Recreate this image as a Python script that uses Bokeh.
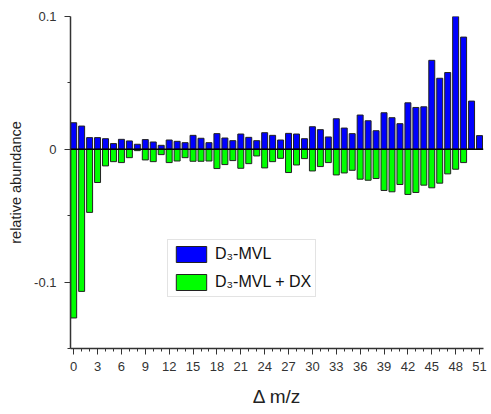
from bokeh.plotting import figure
from bokeh.models import (FixedTicker, Range1d, Span, Legend, LegendItem,
                          CustomJSTickFormatter, ColumnDataSource)
from bokeh.embed import file_html
from bokeh.resources import INLINE

mz = list(range(52))
d3_mvl = [0.020, 0.0175, 0.0088, 0.0088, 0.008, 0.0043, 0.0075, 0.0063, 0.0038, 0.0073,
          0.0055, 0.003, 0.007, 0.006, 0.005, 0.0105, 0.0083, 0.005, 0.0118, 0.0085,
          0.0065, 0.0115, 0.009, 0.0065, 0.0125, 0.0105, 0.007, 0.012, 0.0115, 0.008,
          0.017, 0.0148, 0.0093, 0.023, 0.016, 0.0118, 0.0258, 0.0215, 0.014, 0.0275,
          0.0238, 0.0193, 0.035, 0.0315, 0.032, 0.067, 0.0535, 0.0578, 0.100, 0.0845,
          0.0363, 0.0103]
d3_mvl_dx = [-0.127, -0.107, -0.0475, -0.025, -0.0125, -0.0093, -0.010, -0.0063, -0.001, -0.008,
             -0.0093, -0.004, -0.010, -0.0088, -0.0063, -0.009, -0.009, -0.0088, -0.0145, -0.0115,
             -0.0085, -0.0143, -0.0108, -0.005, -0.014, -0.0093, -0.0068, -0.0175, -0.0118, -0.007,
             -0.0163, -0.013, -0.010, -0.0193, -0.0178, -0.0158, -0.0225, -0.0233, -0.022, -0.031,
             -0.032, -0.0265, -0.034, -0.0325, -0.027, -0.029, -0.0255, -0.0185, -0.015, -0.010,
             0.0, 0.0]
x_ticks = list(range(0, 52, 3))
y_ticks = [-0.1, 0.0, 0.1]
y_minor = [-0.15, -0.05, 0.05]

FONT = "Liberation Sans"

src = ColumnDataSource(dict(x=mz, a=d3_mvl, b=d3_mvl_dx))

p = figure(width=491, height=414, x_range=Range1d(-0.4, 51.5), y_range=Range1d(-0.15, 0.1),
           output_backend="svg", toolbar_location=None,
           min_border_left=70, min_border_right=8, min_border_top=16, min_border_bottom=66)
p.outline_line_color = None
p.xgrid.visible = False
p.ygrid.visible = False
p.background_fill_color = "white"

r1 = p.vbar(x="x", top="a", bottom=0, width=0.75, source=src,
            fill_color="#0000ff", line_color="#222222", line_width=1)
r2 = p.vbar(x="x", top="b", bottom=0, width=0.75, source=src,
            fill_color="#00ff00", line_color="#222222", line_width=1)

p.add_layout(Span(location=0, dimension="width", line_color="black", line_width=1.5))

for ax in (p.xaxis[0], p.yaxis[0]):
    ax.axis_line_color = "#333333"
    ax.axis_line_width = 1.5
    ax.major_tick_line_color = "#333333"
    ax.minor_tick_line_color = "#333333"
    ax.major_tick_out = 6
    ax.major_tick_in = 0
    ax.minor_tick_out = 3
    ax.minor_tick_in = 0
    ax.major_label_text_font = FONT
    ax.major_label_text_font_size = "13px"
    ax.major_label_text_color = "#333333"
    ax.axis_label_text_font = FONT
    ax.axis_label_text_font_style = "normal"
    ax.axis_label_text_color = "#222222"

p.xaxis.ticker = FixedTicker(ticks=x_ticks, minor_ticks=mz)
p.xaxis.axis_label = "Δ m/z"
p.xaxis.axis_label_text_font_size = "19px"
p.xaxis.major_label_standoff = 7
p.xaxis.axis_label_standoff = 12

p.yaxis.ticker = FixedTicker(ticks=y_ticks, minor_ticks=y_minor)
p.yaxis.formatter = CustomJSTickFormatter(code="return Math.abs(tick) < 1e-9 ? '0' : tick.toFixed(1);")
p.yaxis.axis_label = "relative abundance"
p.yaxis.axis_label_text_font_size = "14.5px"
p.yaxis.major_label_standoff = 8
p.yaxis.axis_label_standoff = 7

legend = Legend(items=[LegendItem(label="D₃-MVL", renderers=[r1]),
                       LegendItem(label="D₃-MVL + DX", renderers=[r2])],
                location=(97, 51), orientation="vertical",
                glyph_width=38, glyph_height=20, spacing=8, padding=4, margin=0,
                label_standoff=5, label_text_font=FONT, label_text_font_size="16px",
                label_text_color="#111111",
                border_line_color="#c8c8c8", border_line_width=1,
                background_fill_color="white", background_fill_alpha=1)
p.add_layout(legend, "center")

open("out.html", "w").write(file_html(p, INLINE))
